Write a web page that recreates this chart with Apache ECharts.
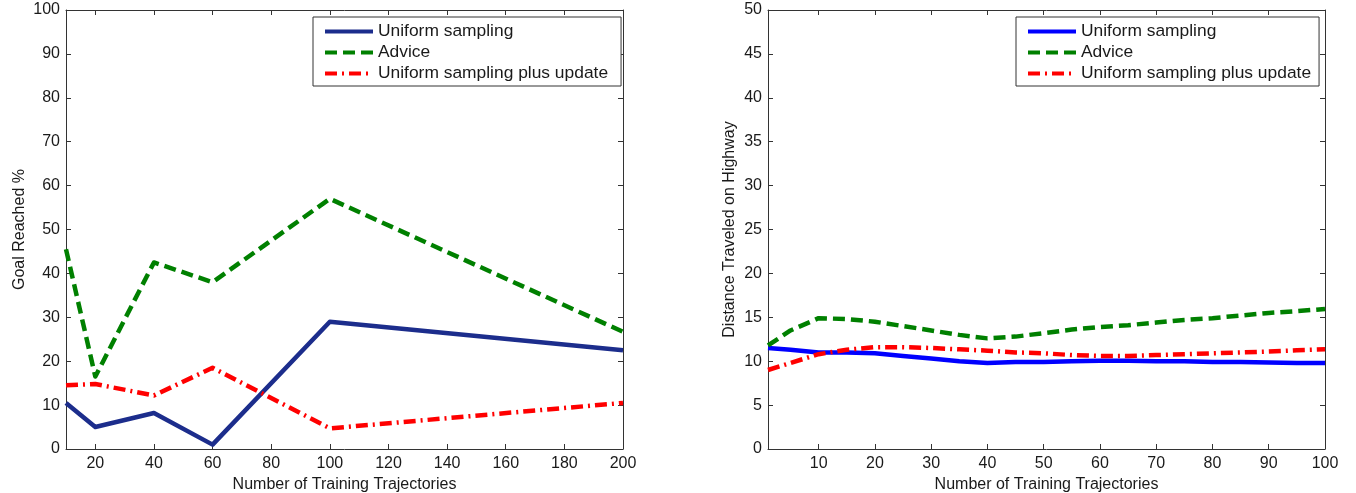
<!DOCTYPE html>
<html>
<head>
<meta charset="utf-8">
<script src="https://cdn.jsdelivr.net/npm/echarts@6/dist/echarts.min.js"></script>
<style>
html,body{margin:0;padding:0;background:#fff;}
#c{width:1356px;height:493px;}
</style>
</head>
<body>
<div id="c"></div>
<script>
// ---- Left chart data ----
const leftX = [10, 20, 40, 60, 100, 200];
const leftUniform = [10.5, 5.0, 8.2, 1.0, 29.0, 22.5];
const leftAdvice = [45.5, 16.5, 42.5, 38.0, 57.0, 26.7];
const leftUpdate = [14.5, 14.8, 12.2, 18.5, 4.7, 10.5];
const leftXTicks = [20, 40, 60, 80, 100, 120, 140, 160, 180, 200];

// ---- Right chart data ----
const rightX = [1, 5, 10, 15, 20, 25, 30, 35, 40, 45, 50, 55, 60, 65, 70, 75, 80, 85, 90, 95, 100];
const rightUniform = [11.5, 11.3, 11.0, 11.0, 10.9, 10.6, 10.3, 10.0, 9.8, 9.9, 9.9, 10.0, 10.05, 10.05, 10.0, 10.0, 9.9, 9.9, 9.85, 9.8, 9.8];
const rightAdvice = [11.8, 13.5, 14.9, 14.8, 14.5, 14.0, 13.5, 13.0, 12.6, 12.8, 13.2, 13.6, 13.9, 14.1, 14.4, 14.7, 14.9, 15.2, 15.5, 15.7, 15.95];
const rightUpdate = [9.0, 9.8, 10.8, 11.3, 11.6, 11.6, 11.5, 11.35, 11.2, 11.0, 10.9, 10.7, 10.6, 10.6, 10.7, 10.8, 10.9, 11.0, 11.1, 11.25, 11.35];
const rightXTicks = [10, 20, 30, 40, 50, 60, 70, 80, 90, 100];

const names = ['Uniform sampling', 'Advice', 'Uniform sampling plus update'];

const FONT = 'Liberation Sans';
const AXC = '#333';
const TXT = '#1a1a1a';
const NAVY = '#1c2d8c';
const BLUE = '#0000ff';
const GREEN = '#008000';
const RED = '#ff0000';
const DASH = [12, 6];
const DASHDOT = [12, 5, 2, 5];
const LW = 4.5;

function pairs(xs, ys) { return xs.map((x, i) => [x, ys[i]]); }

function xAx(grid, min, max, ticks, pos, withLabels, name) {
  return {
    type: 'value', gridIndex: grid, position: pos, min: min, max: max,
    axisLine: { show: true, onZero: false, lineStyle: { color: AXC, width: 1 } },
    axisTick: { show: true, inside: true, length: 5, customValues: ticks, lineStyle: { color: AXC } },
    axisLabel: { show: withLabels, customValues: ticks, margin: 7, color: TXT, fontSize: 16, fontFamily: FONT },
    splitLine: { show: false },
    name: name || '', nameLocation: 'middle', nameGap: 27,
    nameTextStyle: { color: TXT, fontSize: 16, fontFamily: FONT }
  };
}
function yAx(grid, max, interval, pos, withLabels, name, gap) {
  return {
    type: 'value', gridIndex: grid, position: pos, min: 0, max: max, interval: interval,
    axisLine: { show: true, onZero: false, lineStyle: { color: AXC, width: 1 } },
    axisTick: { show: true, inside: true, length: 5, lineStyle: { color: AXC } },
    axisLabel: { show: withLabels, margin: 6, color: TXT, fontSize: 16, fontFamily: FONT },
    splitLine: { show: false },
    name: name || '', nameLocation: 'middle', nameGap: gap || 30, nameRotate: 90,
    nameTextStyle: { color: TXT, fontSize: 16, fontFamily: FONT }
  };
}

function lineSeries(name, xi, yi, data, color, type) {
  return {
    type: 'line', name: name, xAxisIndex: xi, yAxisIndex: yi, data: data,
    symbol: 'none', showSymbol: false, animation: false,
    lineStyle: { color: color, width: LW, type: type, cap: 'butt', join: 'round' },
    itemStyle: { color: color }
  };
}

function legend(left, blueColor, rightPad) {
  return {
    left: left, top: 17, orient: 'vertical',
    backgroundColor: '#fff', borderColor: '#333', borderWidth: 1,
    padding: [6, rightPad, 4, 10], itemGap: 4, itemWidth: 48, itemHeight: 14,
    textStyle: { fontSize: 17.4, fontFamily: FONT, color: TXT },
    selectedMode: false,
    itemStyle: { opacity: 0 },
    lineStyle: { width: 4 },
    data: [
      { name: names[0], lineStyle: { color: blueColor, width: 4 }, itemStyle: { color: blueColor, opacity: 0 } },
      { name: names[1] },
      { name: names[2] }
    ]
  };
}

const option = {
  animation: false,
  backgroundColor: '#fff',
  textStyle: { fontFamily: FONT },
  grid: [
    { left: 66, top: 10, width: 557, height: 439, outerBoundsMode: 'none', containLabel: false },
    { left: 768, top: 10, width: 557, height: 439, outerBoundsMode: 'none', containLabel: false }
  ],
  xAxis: [
    xAx(0, 10, 200, leftXTicks, 'bottom', true, 'Number of Training Trajectories'),
    xAx(0, 10, 200, leftXTicks, 'top', false),
    xAx(1, 1, 100, rightXTicks, 'bottom', true, 'Number of Training Trajectories'),
    xAx(1, 1, 100, rightXTicks, 'top', false)
  ],
  yAxis: [
    yAx(0, 100, 10, 'left', true, 'Goal Reached %', 38),
    yAx(0, 100, 10, 'right', false),
    yAx(1, 50, 5, 'left', true, 'Distance Traveled on Highway', 30),
    yAx(1, 50, 5, 'right', false)
  ],
  legend: [legend(313, NAVY, 13), legend(1016, BLUE, 8)],
  series: [
    lineSeries(names[0], 0, 0, pairs(leftX, leftUniform), NAVY, 'solid'),
    lineSeries(names[1], 0, 0, pairs(leftX, leftAdvice), GREEN, DASH),
    lineSeries(names[2], 0, 0, pairs(leftX, leftUpdate), RED, DASHDOT),
    lineSeries(names[0], 2, 2, pairs(rightX, rightUniform), BLUE, 'solid'),
    lineSeries(names[1], 2, 2, pairs(rightX, rightAdvice), GREEN, DASH),
    lineSeries(names[2], 2, 2, pairs(rightX, rightUpdate), RED, DASHDOT)
  ]
};

const chart = echarts.init(document.getElementById('c'), null, { renderer: 'canvas' });
chart.setOption(option);
</script>
</body>
</html>
